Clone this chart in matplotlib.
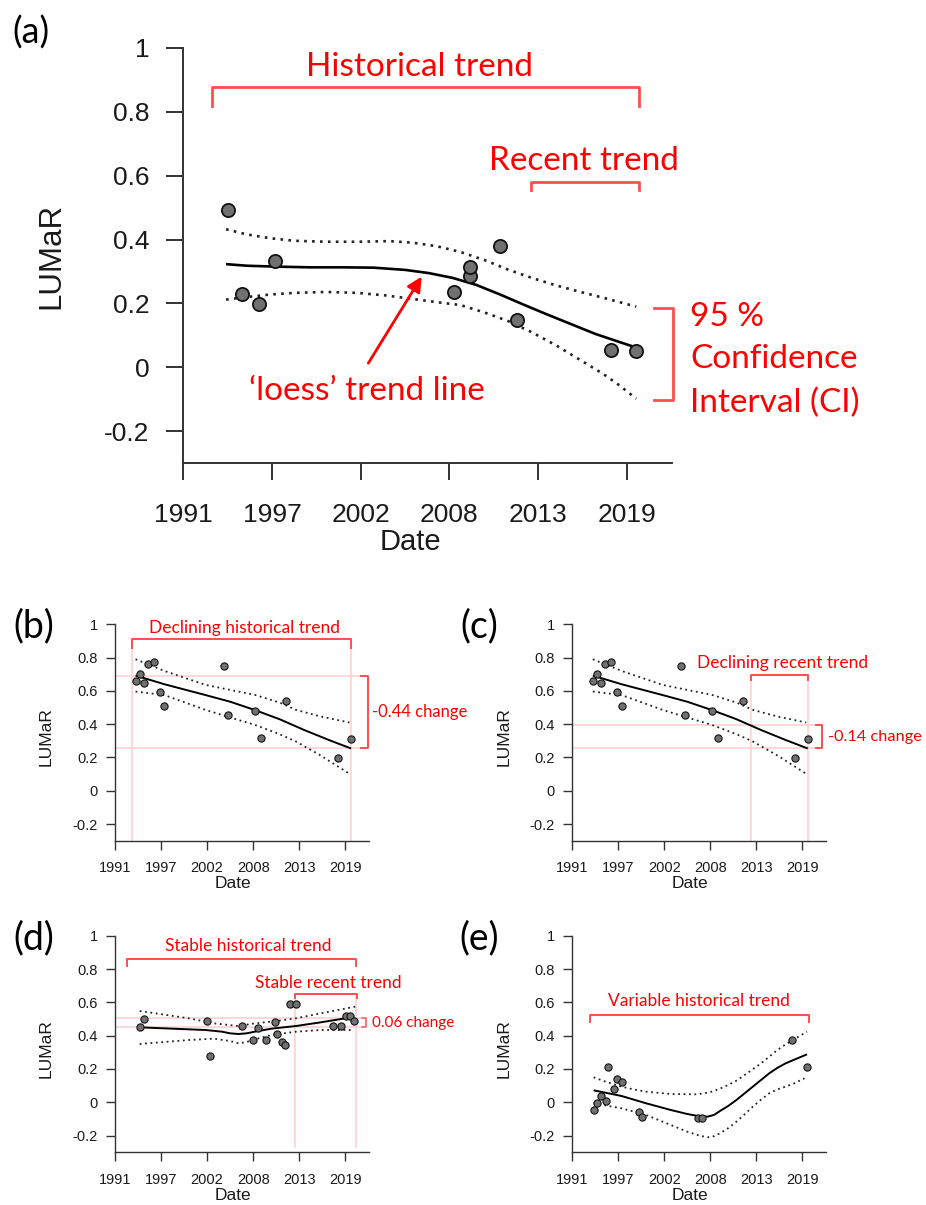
import matplotlib
matplotlib.use('Agg')
import matplotlib.pyplot as plt

W, H = 926, 1205
RED = '#ff0000'
BRACKET = '#ff4d4d'
PINK = '#ffd2d2'
AXIS = '#333333'
TICK_FONT = 'Liberation Sans'
NOTE_FONT = 'Lato'

# shared axis labelling (R style date axis, evenly spaced ticks)
x_tick_labels = ['1991', '1997', '2002', '2008', '2013', '2019']
x_tick_pos = [1991, 1996.6, 2002.2, 2007.8, 2013.4, 2019]
y_tick_vals = [-0.2, 0, 0.2, 0.4, 0.6, 0.8, 1]
y_tick_labels = ['-0.2', '0', '0.2', '0.4', '0.6', '0.8', '1']

# (a) example site
a_year = [1993.8, 1994.7, 1995.8, 1996.8, 2008.1, 2009.1, 2009.1, 2011.0, 2012.1, 2018.0, 2019.6]
a_lumar = [0.493, 0.229, 0.197, 0.333, 0.236, 0.286, 0.313, 0.379, 0.149, 0.055, 0.052]
a_fit_year = [1993.7, 1995, 1997, 1999, 2001, 2003, 2005, 2006.5, 2008, 2009.5, 2011, 2012.5,
              2014, 2015.5, 2017, 2018.5, 2019.6]
a_fit = [0.323, 0.318, 0.315, 0.313, 0.313, 0.312, 0.305, 0.295, 0.28, 0.258, 0.228, 0.196,
         0.165, 0.135, 0.105, 0.08, 0.062]
a_up_year = [1993.7, 1995, 1996.5, 1998, 2000, 2002, 2004, 2005.5, 2007, 2008.5, 2010, 2011.5,
             2013, 2014.5, 2016, 2017.5, 2019.6]
a_up = [0.432, 0.416, 0.404, 0.396, 0.393, 0.393, 0.395, 0.39, 0.379, 0.361, 0.336, 0.306,
        0.28, 0.257, 0.237, 0.218, 0.19]
a_lo_year = [1993.7, 1995, 1996.5, 1998, 2000, 2002, 2003.8, 2005.5, 2007, 2008.5, 2010, 2011.5,
             2013, 2014.5, 2016, 2017.5, 2018.5, 2019.6]
a_lo = [0.212, 0.22, 0.228, 0.233, 0.236, 0.233, 0.225, 0.214, 0.204, 0.195, 0.172, 0.145,
        0.11, 0.07, 0.025, -0.02, -0.055, -0.098]

# (b) and (c) declining site
bc_year = [1993.5, 1994.0, 1994.5, 1995.0, 1995.75, 1996.5, 1997.0, 2004.3, 2004.7, 2008.0,
           2008.7, 2011.8, 2018.1, 2019.7]
bc_lumar = [0.66, 0.70, 0.65, 0.762, 0.772, 0.592, 0.512, 0.75, 0.454, 0.478,
            0.318, 0.542, 0.194, 0.308]
bc_fit_year = [1993.5, 1997, 2002, 2005, 2008, 2011, 2014, 2017, 2019.7]
bc_fit = [0.692, 0.64, 0.575, 0.535, 0.485, 0.43, 0.365, 0.305, 0.254]
bc_up_year = [1993.5, 1997, 2002, 2005, 2008, 2011, 2013, 2016, 2019.5]
bc_up = [0.79, 0.72, 0.636, 0.606, 0.576, 0.53, 0.486, 0.446, 0.41]
bc_lo_year = [1993.5, 1997, 2002, 2005, 2008, 2011, 2013, 2016, 2019.5]
bc_lo = [0.596, 0.575, 0.486, 0.44, 0.396, 0.34, 0.296, 0.212, 0.102]

# (d) stable site
d_year = [1994.0, 1994.5, 2002.2, 2002.5, 2006.5, 2007.8, 2008.4, 2009.3, 2010.4, 2010.7,
          2011.3, 2011.7, 2012.3, 2013.0, 2017.5, 2018.5, 2019.1, 2019.6, 2020.1]
d_lumar = [0.45, 0.502, 0.488, 0.28, 0.456, 0.376, 0.448, 0.376, 0.48, 0.408,
           0.364, 0.344, 0.588, 0.588, 0.46, 0.46, 0.516, 0.516, 0.49]
d_fit_year = [1994.0, 1998, 2002, 2004, 2005, 2006, 2007, 2008, 2010, 2013, 2016, 2019, 2020.1]
d_fit = [0.45, 0.442, 0.434, 0.424, 0.414, 0.41, 0.414, 0.424, 0.442, 0.458, 0.48, 0.504, 0.50]
d_up_year = [1994.0, 2000, 2003, 2006, 2008, 2010, 2013, 2016, 2020.2]
d_up = [0.548, 0.504, 0.474, 0.458, 0.474, 0.484, 0.504, 0.534, 0.574]
d_lo_year = [1994.0, 2000, 2003, 2005, 2006, 2007, 2008, 2010, 2013, 2016, 2019.8]
d_lo = [0.35, 0.374, 0.382, 0.368, 0.354, 0.362, 0.378, 0.404, 0.424, 0.434, 0.434]

# (e) variable site
e_year = [1993.6, 1994.0, 1994.5, 1995.1, 1995.4, 1996.1, 1996.5, 1997.1, 1999.1, 1999.5,
          2006.3, 2006.8, 2017.8, 2019.6]
e_lumar = [-0.048, -0.004, 0.04, 0.008, 0.212, 0.08, 0.142, 0.12, -0.06, -0.086,
           -0.092, -0.092, 0.376, 0.214]
e_fit_year = [1993.6, 1995, 1997, 2000, 2003, 2005, 2006.5, 2007.5, 2008.3, 2009, 2010, 2011,
              2012, 2013, 2014, 2015, 2016, 2017, 2018, 2019.6]
e_fit = [0.072, 0.058, 0.038, -0.006, -0.046, -0.07, -0.084, -0.086, -0.075, -0.052, -0.022,
         0.014, 0.054, 0.094, 0.134, 0.174, 0.207, 0.234, 0.255, 0.288]
e_up_year = [1993.6, 1995, 1997, 1998.5, 2000, 2003, 2006, 2007, 2008, 2009, 2010, 2011, 2012,
             2013, 2014, 2015, 2016, 2017, 2018, 2019.6]
e_up = [0.15, 0.125, 0.094, 0.077, 0.064, 0.05, 0.048, 0.053, 0.064, 0.082, 0.104, 0.13, 0.164,
        0.198, 0.234, 0.274, 0.314, 0.348, 0.378, 0.424]
e_lo_year = [1993.6, 1997, 2000, 2003, 2005, 2006.5, 2007.5, 2008.3, 2009, 2010, 2011, 2012,
             2013, 2014, 2015, 2016, 2017, 2018, 2019.3]
e_lo = [-0.006, -0.036, -0.076, -0.136, -0.176, -0.2, -0.21, -0.203, -0.186, -0.155, -0.116,
        -0.072, -0.026, 0.016, 0.054, 0.078, 0.094, 0.113, 0.144]


def px_box(l, t, r, b):
    return [l / W, 1 - b / H, (r - l) / W, (b - t) / H]


def setup(ax, big):
    ax.set_xlim(1991, 2021.88)
    ax.set_ylim(-0.3, 1.0)
    for s in ['top', 'right']:
        ax.spines[s].set_visible(False)
    for s in ['left', 'bottom']:
        ax.spines[s].set_color(AXIS)
        ax.spines[s].set_linewidth(1.4 if big else 1.0)
    ax.set_xticks(x_tick_pos, x_tick_labels)
    ax.set_yticks(y_tick_vals, y_tick_labels)
    fs = 19 if big else 10.5
    ax.tick_params(axis='y', length=12.5 if big else 6.5, width=1.4 if big else 1.0,
                   color=AXIS, pad=12 if big else 6, labelsize=fs)
    ax.tick_params(axis='x', length=12.5 if big else 6.3, width=1.4 if big else 1.0,
                   color=AXIS, pad=16 if big else 8.5, labelsize=fs)
    for lab in ax.get_xticklabels() + ax.get_yticklabels():
        lab.set_fontfamily(TICK_FONT)
        lab.set_color('#1a1a1a')
    ax.set_xlabel('Date', fontsize=21 if big else 12.5, family=TICK_FONT, color='#1a1a1a')
    ax.set_ylabel('LUMaR', fontsize=22.5 if big else 12.5, family=TICK_FONT, color='#1a1a1a')
    ax.xaxis.label.set_va('center')
    ax.yaxis.label.set_va('center')
    ax.xaxis.set_label_coords(0.465, -0.2)
    ax.yaxis.set_label_coords(-0.27, 0.5 if big else 0.48)


def draw_series(ax, year, vals, fy, fv, uy, uv, ly, lv, big):
    lw = 1.9 if big else 1.4
    dlw = 1.9 if big else 1.3
    ax.plot(uy, uv, color='#222222', lw=dlw, linestyle=(0, (1, 2)))
    ax.plot(ly, lv, color='#222222', lw=dlw, linestyle=(0, (1, 2)))
    ax.plot(fy, fv, color='black', lw=lw, solid_capstyle='butt', solid_joinstyle='round', zorder=3)
    ax.plot(year, vals, 'o', ms=9.5 if big else 5.2, mfc='#707070', mec='#111111',
            mew=1.3 if big else 0.8, zorder=4, clip_on=False)


def top_bracket(ax, x0, x1, y, leg, lw=1.4):
    ax.plot([x0, x0, x1, x1], [y - leg, y, y, y - leg], color=BRACKET, lw=lw,
            clip_on=False, solid_joinstyle='round')


def side_bracket(ax, x0, x1, top, bot, lw=1.4):
    ax.plot([x0, x1, x1, x0], [top, top, bot, bot], color=BRACKET, lw=lw, clip_on=False)


fig = plt.figure(figsize=(W / 100, H / 100), dpi=100)

# ---------------- (a) ----------------
ax = fig.add_axes(px_box(183.3, 47.7, 672.4, 463.3))
setup(ax, True)
ax.xaxis.set_label_coords(0.465, -0.19)
draw_series(ax, a_year, a_lumar, a_fit_year, a_fit, a_up_year, a_up, a_lo_year, a_lo, True)
top_bracket(ax, 1992.8, 2019.75, 0.877, 0.06, lw=2)
ax.text(2005.9, 0.94, 'Historical trend', color=RED, fontsize=24, family=NOTE_FONT,
        ha='center', va='center')
top_bracket(ax, 2012.95, 2019.75, 0.581, 0.026, lw=2)
ax.text(2016.3, 0.645, 'Recent trend', color=RED, fontsize=24, family=NOTE_FONT,
        ha='center', va='center')
side_bracket(ax, 2020.7, 2021.9, 0.185, -0.103, lw=2)
for yy, txt in [(0.131, '95 %'), (-0.003, 'Confidence'), (-0.141, 'Interval (CI)')]:
    ax.text(2023.0, yy, txt, color=RED, fontsize=24, family=NOTE_FONT,
            ha='left', va='baseline', clip_on=False)
ax.text(2002.6, -0.075, '\u2018loess\u2019 trend line', color=RED, fontsize=24,
        family=NOTE_FONT, ha='center', va='center')
ax.annotate('', xy=(2006.05, 0.284), xytext=(2002.68, 0.013),
            arrowprops=dict(arrowstyle='-|>', color=RED, lw=2, mutation_scale=22,
                            shrinkA=0, shrinkB=0))
fig.text(31 / W, 1 - 33 / H, '(a)', fontsize=26, family=NOTE_FONT, ha='center', va='center')

# ---------------- (b) ----------------
ax = fig.add_axes(px_box(115, 624.3, 369, 840.7))
setup(ax, False)
ax.vlines([1993.1, 2019.7], -0.3, 0.86, color=PINK, lw=1.2, zorder=0)
ax.hlines([0.692, 0.256], 1991, 2020.8, color=PINK, lw=1.2, zorder=0, clip_on=False)
draw_series(ax, bc_year, bc_lumar, bc_fit_year, bc_fit, bc_up_year, bc_up, bc_lo_year, bc_lo, False)
top_bracket(ax, 1993.1, 2019.7, 0.912, 0.056)
ax.text(2006.7, 0.976, 'Declining historical trend', color=RED, fontsize=12.5,
        family=NOTE_FONT, ha='center', va='center')
side_bracket(ax, 2020.85, 2021.72, 0.692, 0.256)
ax.text(2022.25, 0.472, '-0.44 change', color=RED, fontsize=12, family=NOTE_FONT,
        ha='left', va='center', clip_on=False)
fig.text(34 / W, 1 - 626 / H, '(b)', fontsize=27, family=NOTE_FONT, ha='center', va='center')

# ---------------- (c) ----------------
ax = fig.add_axes(px_box(572.3, 624.3, 825.7, 840.7))
setup(ax, False)
ax.vlines([2012.83, 2019.73], -0.3, 0.67, color=PINK, lw=1.2, zorder=0)
ax.hlines([0.396, 0.256], 1991, 2020.75, color=PINK, lw=1.2, zorder=0, clip_on=False)
draw_series(ax, bc_year, bc_lumar, bc_fit_year, bc_fit, bc_up_year, bc_up, bc_lo_year, bc_lo, False)
top_bracket(ax, 2012.83, 2019.73, 0.696, 0.03)
ax.text(2016.6, 0.766, 'Declining recent trend', color=RED, fontsize=12.5,
        family=NOTE_FONT, ha='center', va='center')
side_bracket(ax, 2020.75, 2021.45, 0.396, 0.256)
ax.text(2022.1, 0.32, '-0.14 change', color=RED, fontsize=11.8, family=NOTE_FONT,
        ha='left', va='center', clip_on=False)
fig.text(479 / W, 1 - 626 / H, '(c)', fontsize=27, family=NOTE_FONT, ha='center', va='center')

# ---------------- (d) ----------------
ax = fig.add_axes(px_box(115, 935.7, 369, 1152.3))
setup(ax, False)
ax.vlines([2012.92, 2020.26], -0.276, 0.63, color=PINK, lw=1.2, zorder=0)
ax.hlines([0.508, 0.452], 1991, 2021.0, color=PINK, lw=1.2, zorder=0, clip_on=False)
draw_series(ax, d_year, d_lumar, d_fit_year, d_fit, d_up_year, d_up, d_lo_year, d_lo, False)
top_bracket(ax, 1992.42, 2020.3, 0.86, 0.042)
ax.text(2007.15, 0.938, 'Stable historical trend', color=RED, fontsize=12.5,
        family=NOTE_FONT, ha='center', va='center')
top_bracket(ax, 2012.92, 2020.4, 0.648, 0.024)
ax.text(2016.9, 0.714, 'Stable recent trend', color=RED, fontsize=12.5,
        family=NOTE_FONT, ha='center', va='center')
side_bracket(ax, 2021.0, 2021.5, 0.508, 0.452, lw=1.1)
ax.text(2022.25, 0.474, '0.06 change', color=RED, fontsize=11, family=NOTE_FONT,
        ha='left', va='center', clip_on=False)
fig.text(34 / W, 1 - 938 / H, '(d)', fontsize=27, family=NOTE_FONT, ha='center', va='center')

# ---------------- (e) ----------------
ax = fig.add_axes(px_box(572.3, 935.7, 825.7, 1152.3))
setup(ax, False)
draw_series(ax, e_year, e_lumar, e_fit_year, e_fit, e_up_year, e_up, e_lo_year, e_lo, False)
top_bracket(ax, 1993.15, 2019.82, 0.524, 0.04)
ax.text(2006.4, 0.608, 'Variable historical trend', color=RED, fontsize=12.5,
        family=NOTE_FONT, ha='center', va='center')
fig.text(479 / W, 1 - 938 / H, '(e)', fontsize=27, family=NOTE_FONT, ha='center', va='center')

fig.savefig('out.png', dpi=100)
